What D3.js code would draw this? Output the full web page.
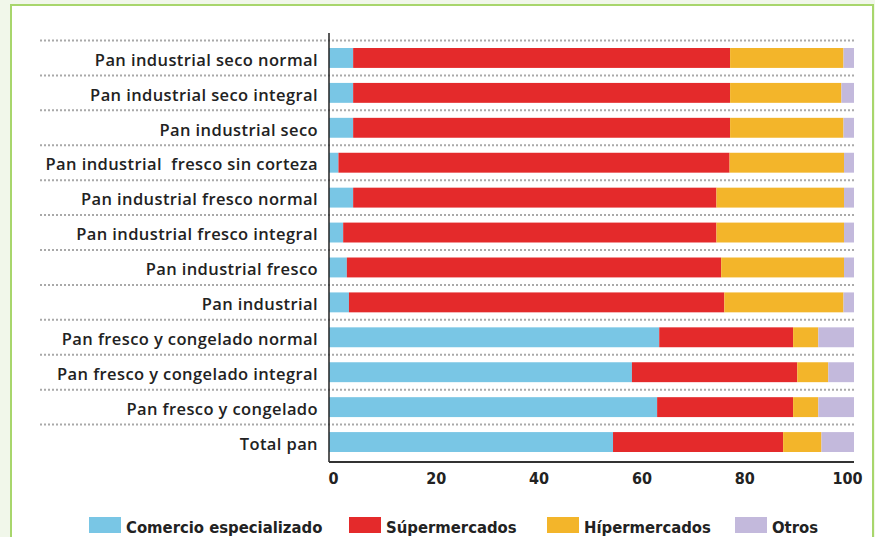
<!DOCTYPE html>
<html>
<head>
<meta charset="utf-8">
<script src="https://cdn.jsdelivr.net/npm/d3@7"></script>
<style>
  html, body { margin: 0; padding: 0; background: #f1f7ea; }
  svg { display: block; }
</style>
</head>
<body>
<div id="chart"></div>
<script>
const categories = [
    'Pan industrial seco normal',
    'Pan industrial seco integral',
    'Pan industrial seco',
    'Pan industrial  fresco sin corteza',
    'Pan industrial fresco normal',
    'Pan industrial fresco integral',
    'Pan industrial fresco',
    'Pan industrial',
    'Pan fresco y congelado normal',
    'Pan fresco y congelado integral',
    'Pan fresco y congelado',
    'Total pan'
];
const seriesNames = ['Comercio especializado', 'Súpermercados', 'Hípermercados', 'Otros'];
const comercio = [4.6, 4.6, 4.6, 1.8, 4.6, 2.7, 3.4, 3.8, 62.9, 57.7, 62.5, 54.1];
const supermercados = [71.8, 71.8, 71.8, 74.5, 69.2, 71.1, 71.3, 71.5, 25.5, 31.5, 25.9, 32.4];
const hipermercados = [21.6, 21.2, 21.6, 21.8, 24.3, 24.3, 23.4, 22.7, 4.8, 5.9, 4.8, 7.3];
const otros = [2.0, 2.4, 2.0, 1.9, 1.9, 1.9, 1.9, 2.0, 6.8, 4.9, 6.8, 6.2];
const xTicks = [0, 20, 40, 60, 80, 100];
const colors = ['#79c6e5', '#e42a2b', '#f3b52a', '#c3b9dc'];

const WIDTH = 875, HEIGHT = 537;
const LEFT = 329, RIGHT = 854, TOP = 40.5, BOTTOM = 459.5;

const rows = categories.map((c, i) => ({
    cat: c,
    'Comercio especializado': comercio[i],
    'Súpermercados': supermercados[i],
    'Hípermercados': hipermercados[i],
    'Otros': otros[i]
}));

const svg = d3.select('#chart').append('svg')
    .attr('width', WIDTH)
    .attr('height', HEIGHT);

// panel
svg.append('rect')
    .attr('x', 11).attr('y', 5)
    .attr('width', 862).attr('height', 545)
    .attr('fill', '#fff')
    .attr('stroke', '#a8d66c')
    .attr('stroke-width', 2);

const x = d3.scaleLinear().domain([0, 100]).range([LEFT, RIGHT]);
const y = d3.scaleBand().domain(categories).range([TOP, BOTTOM]).paddingInner(0.43).paddingOuter(0.215);

// dotted separators at top of each band
const step = y.step();
svg.append('g').selectAll('line')
    .data(categories)
    .enter()
    .append('line')
    .attr('x1', 40).attr('x2', RIGHT)
    .attr('y1', (d, i) => TOP + i * step)
    .attr('y2', (d, i) => TOP + i * step)
    .attr('stroke', '#a9a9a9')
    .attr('stroke-width', 2)
    .attr('stroke-dasharray', '2,2');

const stack = d3.stack().keys(seriesNames)(rows);

svg.append('g').selectAll('g')
    .data(stack)
    .enter()
    .append('g')
    .attr('fill', (d, i) => colors[i])
    .selectAll('rect')
    .data(d => d)
    .enter()
    .append('rect')
    .attr('x', d => x(d[0]))
    .attr('width', d => x(d[1]) - x(d[0]))
    .attr('y', d => y(d.data.cat))
    .attr('height', y.bandwidth());

// category labels
svg.append('g').selectAll('text')
    .data(categories)
    .enter()
    .append('text')
    .attr('x', 318)
    .attr('y', d => y(d) + y.bandwidth() / 2 + 2)
    .attr('dy', '0.35em')
    .attr('text-anchor', 'end')
    .attr('font-family', 'Open Sans, sans-serif')
    .attr('font-weight', 600)
    .attr('font-size', 16.5)
    .attr('letter-spacing', 0.4)
    .attr('fill', '#222')
    .style('white-space', 'pre')
    .text(d => d);

// axes lines
svg.append('line')
    .attr('x1', LEFT).attr('x2', LEFT)
    .attr('y1', 33).attr('y2', 462)
    .attr('stroke', '#222').attr('stroke-width', 1.5);
svg.append('line')
    .attr('x1', LEFT).attr('x2', RIGHT)
    .attr('y1', 462).attr('y2', 462)
    .attr('stroke', '#333').attr('stroke-width', 2);

// tick labels sit slightly inside the bar span in the original
const xLabels = x.copy().range([LEFT + 4, RIGHT - 7]);
const xAxis = svg.append('g')
    .attr('transform', `translate(0, 473)`)
    .call(d3.axisBottom(xLabels).tickValues(xTicks).tickSize(0).tickPadding(0));
xAxis.select('.domain').remove();
xAxis.selectAll('text')
    .attr('font-family', 'DejaVu Sans Condensed, sans-serif')
    .attr('font-weight', 'bold')
    .attr('font-size', 16)
    .attr('fill', '#222');

// legend
const legendX = [89, 349, 547, 735];
const legend = svg.append('g').selectAll('g')
    .data(seriesNames)
    .enter()
    .append('g')
    .attr('transform', (d, i) => `translate(${legendX[i]}, 517)`);
legend.append('rect')
    .attr('width', 32).attr('height', 16)
    .attr('fill', (d, i) => colors[i]);
legend.append('text')
    .attr('x', 37).attr('y', 9)
    .attr('dy', '0.4em')
    .attr('font-family', 'DejaVu Sans Condensed, sans-serif')
    .attr('font-weight', 'bold')
    .attr('font-size', 16.5)
    .attr('fill', '#222')
    .text(d => d);
</script>
</body>
</html>
